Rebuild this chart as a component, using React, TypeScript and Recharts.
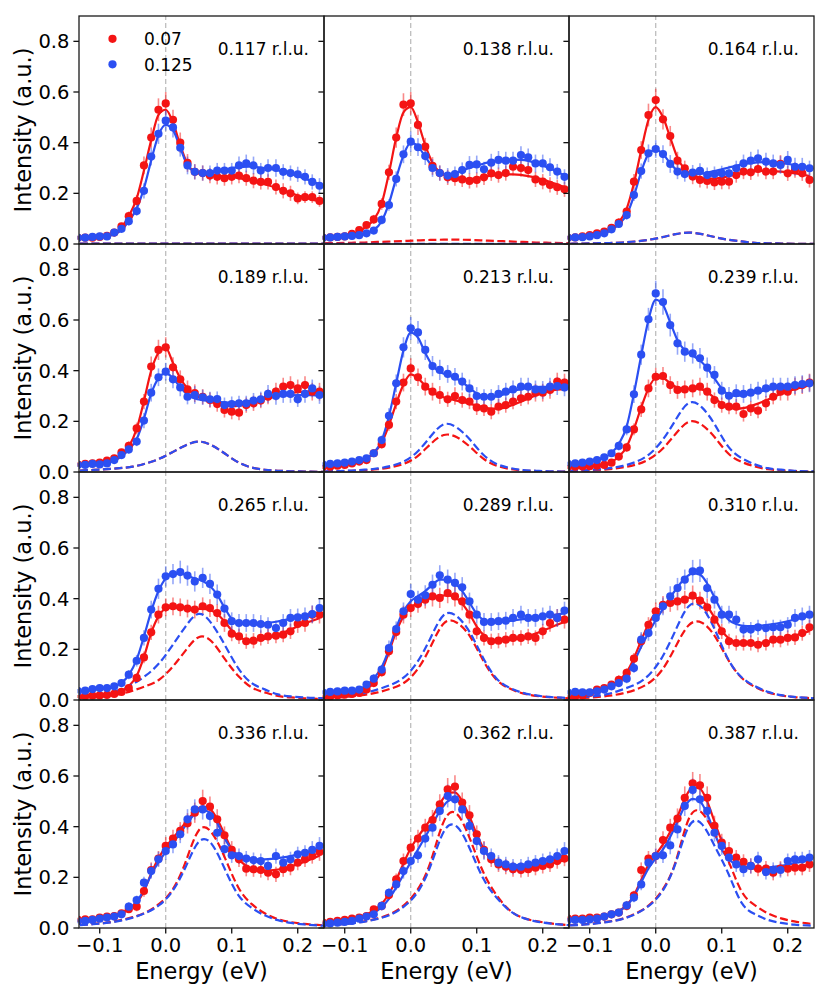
import React from 'react';
import { ComposedChart, XAxis, YAxis, Line, Scatter, ErrorBar, ReferenceLine } from 'recharts';

// ---------- data ----------
const ENERGY = [-0.133, -0.122, -0.111, -0.1, -0.089, -0.078, -0.067, -0.056, -0.044, -0.033, -0.022, -0.011, 0, 0.011, 0.022, 0.033, 0.044, 0.056, 0.067, 0.078, 0.089, 0.1, 0.111, 0.122, 0.133, 0.144, 0.155, 0.167, 0.178, 0.189, 0.2, 0.211, 0.222, 0.233];
const DASH_ENERGY = [-0.13, -0.11, -0.09, -0.07, -0.05, -0.03, -0.01, 0.01, 0.03, 0.05, 0.07, 0.09, 0.11, 0.13, 0.15, 0.17, 0.19, 0.21, 0.23, 0.25];
const Q_LABELS = ['0.117 r.l.u.', '0.138 r.l.u.', '0.164 r.l.u.', '0.189 r.l.u.', '0.213 r.l.u.', '0.239 r.l.u.', '0.265 r.l.u.', '0.289 r.l.u.', '0.310 r.l.u.', '0.336 r.l.u.', '0.362 r.l.u.', '0.387 r.l.u.'];
const SERIES_LABELS = ['0.07', '0.125'];
const X_TICKS = [-0.1, 0, 0.1, 0.2];
const X_TICK_LABELS = ['\u22120.1', '0.0', '0.1', '0.2'];
const Y_TICKS = [0, 0.2, 0.4, 0.6, 0.8];
const Y_TICK_LABELS = ['0.0', '0.2', '0.4', '0.6', '0.8'];
const X_LABEL = 'Energy (eV)';
const Y_LABEL = 'Intensity (a.u.)';

const RED_POINTS = [
  [.025,.025,.025,.028,.032,.045,.07,.11,.17,.31,.42,.53,.555,.49,.40,.32,.285,.28,.27,.265,.26,.265,.27,.26,.25,.245,.245,.225,.21,.20,.18,.185,.185,.17],
  [.025,.026,.028,.03,.04,.055,.075,.097,.158,.283,.42,.55,.555,.47,.384,.308,.28,.263,.26,.255,.249,.253,.263,.279,.272,.28,.305,.30,.292,.255,.246,.233,.224,.216],
  [.025,.026,.03,.035,.042,.049,.064,.084,.128,.246,.371,.509,.568,.492,.426,.329,.299,.266,.253,.249,.243,.246,.246,.272,.286,.283,.296,.286,.286,.316,.279,.292,.279,.253],
  [.03,.032,.034,.037,.045,.054,.078,.103,.172,.278,.416,.482,.492,.413,.366,.326,.311,.297,.284,.268,.245,.238,.234,.264,.271,.282,.297,.317,.337,.343,.33,.343,.317,.317],
  [.02,.021,.025,.028,.034,.041,.047,.074,.11,.186,.278,.353,.409,.374,.337,.317,.304,.287,.30,.284,.278,.255,.251,.238,.258,.264,.278,.291,.297,.313,.313,.324,.357,.353],
  [.02,.021,.022,.023,.025,.028,.037,.061,.097,.168,.247,.33,.376,.379,.343,.324,.326,.33,.337,.317,.284,.264,.258,.258,.229,.251,.242,.271,.297,.317,.317,.337,.343,.353],
  [.014,.015,.017,.018,.02,.024,.032,.047,.087,.168,.267,.337,.366,.37,.366,.361,.357,.37,.363,.343,.304,.262,.251,.232,.234,.245,.251,.254,.258,.271,.30,.304,.337,.337],
  [.013,.014,.018,.021,.024,.028,.041,.067,.11,.192,.268,.337,.363,.379,.396,.409,.403,.422,.409,.389,.337,.271,.245,.232,.234,.238,.245,.245,.251,.245,.271,.304,.324,.317],
  [.013,.014,.017,.028,.041,.047,.061,.08,.107,.163,.232,.297,.35,.376,.383,.389,.396,.412,.392,.366,.317,.271,.232,.225,.225,.225,.218,.225,.238,.238,.245,.247,.264,.287],
  [.032,.034,.034,.041,.045,.047,.058,.074,.084,.146,.229,.274,.324,.353,.383,.413,.455,.501,.479,.429,.366,.308,.271,.234,.232,.229,.218,.212,.232,.238,.258,.271,.284,.30],
  [.022,.024,.028,.032,.037,.041,.047,.074,.087,.13,.192,.264,.317,.353,.396,.426,.488,.547,.558,.495,.445,.37,.308,.271,.251,.242,.232,.229,.232,.238,.245,.251,.264,.274],
  [.037,.037,.037,.041,.041,.045,.054,.061,.087,.129,.229,.274,.284,.347,.396,.432,.514,.571,.563,.514,.403,.337,.304,.278,.261,.245,.234,.234,.218,.234,.234,.238,.238,.251],
];

const RED_ERRORS = [
  [.008,.008,.008,.008,.008,.013,.013,.018,.023,.035,.04,.045,.045,.04,.04,.035,.03,.03,.03,.03,.03,.03,.03,.03,.03,.03,.03,.03,.03,.03,.023,.023,.023,.023],
  [.008,.008,.008,.008,.013,.013,.013,.018,.023,.03,.04,.045,.045,.04,.035,.035,.03,.03,.03,.03,.03,.03,.03,.03,.03,.03,.035,.035,.03,.03,.03,.03,.03,.03],
  [.008,.008,.008,.008,.013,.013,.013,.018,.018,.03,.035,.045,.045,.04,.04,.035,.03,.03,.03,.03,.03,.03,.03,.03,.03,.03,.03,.03,.03,.035,.03,.03,.03,.03],
  [.008,.008,.008,.008,.013,.013,.013,.018,.023,.03,.04,.04,.04,.04,.035,.035,.035,.03,.03,.03,.03,.03,.03,.03,.03,.03,.03,.035,.035,.035,.035,.035,.035,.035],
  [.008,.008,.008,.008,.008,.013,.013,.013,.018,.023,.03,.035,.04,.035,.035,.035,.035,.03,.035,.03,.03,.03,.03,.03,.03,.03,.03,.03,.03,.035,.035,.035,.035,.035],
  [.008,.008,.008,.008,.008,.008,.008,.013,.018,.023,.03,.035,.035,.035,.035,.035,.035,.035,.035,.035,.03,.03,.03,.03,.03,.03,.03,.03,.03,.035,.035,.035,.035,.035],
  [.006,.006,.006,.006,.006,.008,.008,.013,.018,.023,.03,.035,.035,.035,.035,.035,.035,.035,.035,.035,.035,.03,.03,.03,.03,.03,.03,.03,.03,.03,.035,.035,.035,.035],
  [.006,.006,.006,.008,.008,.008,.013,.013,.018,.023,.03,.035,.035,.035,.035,.04,.04,.04,.04,.035,.035,.03,.03,.03,.03,.03,.03,.03,.03,.03,.03,.035,.035,.035],
  [.006,.006,.006,.008,.013,.013,.013,.018,.018,.023,.03,.03,.035,.035,.035,.035,.035,.04,.035,.035,.035,.03,.03,.03,.03,.03,.03,.03,.03,.03,.03,.03,.03,.03],
  [.008,.008,.008,.013,.013,.013,.013,.013,.018,.023,.03,.03,.035,.035,.035,.04,.04,.045,.04,.04,.035,.035,.03,.03,.03,.03,.03,.03,.03,.03,.03,.03,.03,.035],
  [.008,.008,.008,.008,.008,.013,.013,.013,.018,.018,.023,.03,.035,.035,.035,.04,.04,.045,.045,.04,.04,.035,.035,.03,.03,.03,.03,.03,.03,.03,.03,.03,.03,.03],
  [.008,.008,.008,.013,.013,.013,.013,.013,.018,.018,.03,.03,.03,.035,.035,.04,.045,.045,.045,.045,.04,.035,.035,.03,.03,.03,.03,.03,.03,.03,.03,.03,.03,.03],
];

const BLUE_POINTS = [
  [.025,.025,.028,.03,.03,.045,.06,.09,.13,.21,.345,.435,.487,.46,.38,.31,.285,.28,.28,.29,.29,.29,.31,.318,.31,.29,.30,.30,.285,.28,.275,.265,.245,.23],
  [.025,.026,.028,.03,.032,.035,.042,.053,.095,.154,.257,.354,.404,.382,.347,.30,.28,.27,.276,.292,.312,.314,.295,.321,.332,.329,.329,.351,.342,.318,.318,.303,.286,.265],
  [.025,.026,.027,.03,.035,.042,.058,.079,.114,.193,.288,.358,.375,.355,.316,.286,.276,.282,.289,.272,.276,.279,.279,.299,.318,.329,.338,.325,.318,.312,.332,.305,.305,.299],
  [.028,.028,.032,.03,.034,.047,.067,.089,.12,.203,.313,.374,.396,.366,.334,.297,.304,.295,.287,.288,.264,.268,.271,.271,.282,.287,.308,.30,.308,.308,.287,.308,.33,.304],
  [.03,.032,.034,.037,.041,.047,.054,.074,.126,.222,.35,.492,.567,.551,.482,.418,.403,.387,.376,.357,.33,.30,.297,.297,.308,.317,.326,.337,.337,.326,.324,.337,.339,.334],
  [.032,.034,.037,.041,.047,.058,.074,.103,.168,.307,.463,.603,.705,.671,.58,.508,.475,.468,.449,.412,.383,.321,.301,.311,.308,.313,.321,.33,.337,.337,.337,.343,.347,.35],
  [.035,.037,.043,.047,.047,.054,.067,.10,.155,.245,.357,.439,.488,.497,.505,.491,.468,.482,.458,.416,.361,.311,.304,.304,.304,.30,.297,.284,.304,.324,.326,.33,.339,.363],
  [.03,.032,.034,.037,.037,.041,.061,.084,.12,.205,.28,.35,.418,.396,.413,.455,.492,.475,.462,.445,.389,.337,.308,.308,.311,.313,.324,.337,.324,.324,.33,.337,.324,.353],
  [.03,.032,.03,.03,.034,.041,.054,.067,.084,.126,.238,.264,.324,.37,.409,.442,.475,.508,.511,.442,.396,.337,.337,.317,.278,.278,.287,.284,.287,.287,.297,.324,.33,.337],
  [.027,.028,.032,.037,.041,.045,.054,.084,.11,.179,.225,.271,.304,.33,.37,.429,.468,.468,.442,.376,.311,.287,.284,.274,.268,.264,.245,.284,.258,.271,.291,.297,.308,.324],
  [.017,.018,.021,.024,.028,.037,.045,.054,.087,.139,.172,.225,.264,.287,.353,.396,.462,.521,.508,.468,.403,.343,.304,.284,.258,.251,.242,.242,.251,.258,.264,.271,.284,.304],
  [.031,.032,.032,.034,.037,.045,.054,.061,.089,.12,.172,.258,.284,.287,.326,.389,.482,.545,.508,.462,.376,.324,.278,.251,.232,.245,.271,.221,.229,.229,.264,.271,.271,.278],
];

const BLUE_ERRORS = [
  [.008,.008,.008,.008,.008,.013,.013,.018,.018,.03,.035,.04,.04,.04,.035,.035,.03,.03,.03,.03,.03,.03,.035,.035,.035,.03,.035,.035,.03,.03,.03,.03,.03,.03],
  [.008,.008,.008,.008,.008,.008,.013,.013,.018,.023,.03,.035,.04,.035,.035,.035,.03,.03,.03,.03,.035,.035,.03,.035,.035,.035,.035,.035,.035,.035,.035,.035,.03,.03],
  [.008,.008,.008,.008,.008,.013,.013,.013,.018,.023,.03,.035,.035,.035,.035,.03,.03,.03,.03,.03,.03,.03,.03,.03,.035,.035,.035,.035,.035,.035,.035,.035,.035,.03],
  [.008,.008,.008,.008,.008,.013,.013,.018,.018,.03,.035,.035,.035,.035,.035,.03,.035,.03,.03,.03,.03,.03,.03,.03,.03,.03,.035,.035,.035,.035,.03,.035,.035,.035],
  [.008,.008,.008,.008,.013,.013,.013,.013,.018,.03,.035,.04,.045,.045,.04,.04,.04,.035,.035,.035,.035,.035,.03,.03,.035,.035,.035,.035,.035,.035,.035,.035,.035,.035],
  [.008,.008,.008,.013,.013,.013,.013,.018,.023,.035,.04,.045,.05,.05,.045,.045,.04,.04,.04,.04,.035,.035,.035,.035,.035,.035,.035,.035,.035,.035,.035,.035,.035,.035],
  [.008,.008,.013,.013,.013,.013,.013,.018,.023,.03,.035,.04,.04,.04,.045,.04,.04,.04,.04,.04,.035,.035,.035,.035,.035,.035,.03,.03,.035,.035,.035,.035,.035,.035],
  [.008,.008,.008,.008,.008,.013,.013,.018,.018,.03,.03,.035,.04,.035,.04,.04,.04,.04,.04,.04,.035,.035,.035,.035,.035,.035,.035,.035,.035,.035,.035,.035,.035,.035],
  [.008,.008,.008,.008,.008,.013,.013,.013,.018,.018,.03,.03,.035,.035,.04,.04,.04,.045,.045,.04,.035,.035,.035,.035,.03,.03,.03,.03,.03,.03,.03,.035,.035,.035],
  [.008,.008,.008,.008,.013,.013,.013,.018,.018,.023,.03,.03,.035,.035,.035,.04,.04,.04,.04,.035,.035,.03,.03,.03,.03,.03,.03,.03,.03,.03,.03,.03,.035,.035],
  [.006,.006,.008,.008,.008,.008,.013,.013,.018,.018,.023,.03,.03,.03,.035,.035,.04,.045,.045,.04,.04,.035,.035,.03,.03,.03,.03,.03,.03,.03,.03,.03,.03,.035],
  [.008,.008,.008,.008,.008,.013,.013,.013,.018,.018,.023,.03,.03,.03,.035,.035,.04,.045,.045,.04,.035,.035,.03,.03,.03,.03,.03,.03,.03,.03,.03,.03,.03,.03],
];

const RED_FIT = [
  [.025,.025,.026,.028,.032,.042,.065,.11,.18,.29,.41,.51,.53,.48,.39,.315,.285,.275,.272,.27,.268,.265,.26,.255,.248,.24,.232,.222,.212,.202,.192,.183,.175,.168],
  [.025,.026,.028,.03,.038,.05,.07,.095,.16,.28,.42,.52,.54,.48,.39,.32,.283,.266,.258,.255,.256,.26,.265,.27,.273,.275,.275,.273,.268,.262,.254,.245,.235,.225],
  [.025,.026,.028,.032,.038,.048,.062,.085,.14,.24,.37,.49,.54,.5,.42,.34,.295,.272,.262,.258,.258,.262,.268,.275,.281,.286,.288,.289,.288,.286,.283,.279,.274,.268],
  [.03,.031,.033,.036,.042,.052,.07,.1,.17,.28,.4,.47,.49,.43,.37,.33,.305,.29,.278,.268,.262,.26,.262,.268,.277,.287,.29,.3,.307,.312,.315,.317,.318,.318],
  [.02,.022,.025,.028,.033,.04,.052,.075,.115,.185,.27,.345,.385,.37,.34,.315,.3,.29,.283,.277,.27,.262,.255,.25,.25,.255,.265,.277,.29,.302,.312,.32,.325,.327],
  [.02,.021,.022,.023,.025,.03,.04,.06,.1,.17,.255,.33,.37,.37,.35,.333,.328,.33,.328,.315,.293,.27,.255,.25,.252,.26,.27,.283,.296,.308,.318,.327,.335,.342],
  [.014,.015,.016,.018,.021,.026,.035,.055,.095,.17,.265,.33,.36,.365,.364,.362,.36,.36,.355,.34,.31,.275,.25,.237,.235,.238,.245,.255,.266,.278,.29,.302,.313,.323],
  [.013,.014,.016,.019,.023,.029,.042,.068,.115,.19,.27,.33,.365,.382,.395,.405,.412,.413,.405,.38,.34,.29,.255,.238,.233,.234,.238,.244,.252,.262,.273,.285,.297,.308],
  [.013,.015,.018,.023,.03,.04,.055,.078,.11,.165,.235,.3,.345,.37,.385,.393,.4,.405,.398,.37,.325,.275,.242,.228,.223,.223,.225,.229,.234,.24,.247,.255,.263,.272],
  [.032,.033,.035,.038,.042,.048,.058,.075,.1,.145,.215,.275,.32,.355,.39,.425,.46,.48,.47,.43,.37,.31,.27,.245,.232,.227,.227,.23,.235,.243,.252,.262,.273,.285],
  [.022,.024,.027,.031,.036,.043,.053,.07,.095,.135,.19,.255,.315,.36,.4,.44,.49,.53,.535,.5,.44,.37,.31,.27,.25,.24,.236,.235,.236,.24,.245,.252,.26,.268],
  [.035,.036,.037,.039,.042,.047,.055,.068,.09,.13,.19,.25,.29,.33,.38,.44,.51,.555,.55,.5,.42,.345,.29,.26,.245,.237,.233,.232,.233,.235,.238,.241,.245,.249],
];

const BLUE_FIT = [
  [.025,.025,.026,.027,.03,.038,.055,.09,.14,.22,.33,.43,.47,.45,.38,.31,.285,.28,.283,.288,.294,.3,.303,.305,.305,.302,.298,.292,.285,.277,.268,.258,.247,.236],
  [.025,.026,.028,.03,.032,.036,.043,.055,.09,.16,.26,.35,.40,.385,.345,.305,.282,.275,.28,.29,.3,.31,.318,.325,.33,.332,.333,.332,.328,.32,.31,.298,.285,.27],
  [.025,.026,.027,.03,.035,.042,.055,.078,.115,.19,.285,.355,.372,.355,.318,.29,.277,.275,.277,.282,.288,.295,.302,.309,.315,.319,.322,.323,.322,.32,.316,.311,.306,.3],
  [.028,.029,.03,.032,.036,.045,.062,.088,.13,.21,.31,.37,.39,.37,.335,.305,.29,.284,.28,.277,.275,.274,.275,.278,.283,.288,.293,.298,.301,.303,.304,.304,.303,.302],
  [.03,.031,.033,.036,.04,.046,.056,.075,.125,.22,.35,.48,.55,.53,.47,.42,.395,.383,.372,.355,.332,.31,.297,.295,.3,.31,.32,.327,.332,.335,.336,.337,.337,.337],
  [.032,.034,.036,.04,.046,.056,.075,.11,.18,.31,.46,.6,.68,.66,.59,.52,.48,.46,.44,.41,.37,.33,.305,.3,.303,.31,.317,.323,.328,.332,.336,.34,.344,.348],
  [.035,.037,.04,.044,.048,.055,.068,.098,.16,.25,.35,.43,.48,.5,.5,.49,.48,.47,.45,.415,.365,.32,.303,.3,.3,.302,.305,.309,.314,.32,.326,.333,.34,.347],
  [.03,.031,.033,.035,.038,.044,.058,.085,.13,.2,.285,.35,.39,.41,.43,.455,.475,.475,.46,.43,.385,.34,.315,.307,.307,.31,.314,.318,.322,.326,.33,.334,.338,.342],
  [.03,.031,.032,.034,.037,.043,.053,.07,.1,.15,.21,.265,.315,.36,.405,.445,.48,.5,.495,.46,.405,.35,.315,.3,.293,.292,.293,.296,.3,.305,.311,.318,.325,.333],
  [.027,.029,.032,.036,.041,.048,.058,.075,.105,.15,.21,.26,.3,.335,.375,.415,.45,.465,.455,.415,.355,.31,.287,.277,.272,.271,.272,.275,.279,.284,.29,.297,.305,.314],
  [.017,.019,.022,.026,.031,.038,.047,.06,.082,.115,.16,.21,.26,.31,.36,.41,.46,.5,.51,.48,.42,.355,.305,.275,.258,.25,.248,.249,.252,.257,.264,.272,.281,.29],
  [.031,.032,.033,.035,.038,.044,.053,.067,.088,.125,.18,.235,.275,.31,.36,.42,.48,.51,.5,.45,.375,.31,.27,.25,.24,.236,.236,.238,.241,.245,.25,.256,.262,.268],
];

const RED_DASHED = [
  [.002,.002,.002,.002,.002,.002,.002,.002,.002,.002,.002,.002,.002,.002,.002,.002,.002,.002,.002,.002],
  [.003,.004,.005,.006,.008,.01,.012,.014,.016,.017,.017,.016,.014,.012,.01,.008,.006,.005,.004,.003],
  [.001,.002,.003,.004,.006,.01,.017,.027,.039,.045,.039,.027,.017,.01,.005,.003,.002,.001,.001,0],
  [.006,.008,.011,.015,.021,.034,.052,.078,.105,.12,.105,.072,.038,.018,.009,.005,.003,.002,.001,.001],
  [.002,.003,.005,.007,.011,.019,.033,.062,.11,.146,.137,.099,.053,.025,.012,.006,.004,.002,.002,.001],
  [.004,.005,.007,.011,.018,.029,.051,.091,.15,.198,.186,.135,.073,.04,.022,.011,.007,.004,.002,.001],
  [.007,.01,.015,.023,.037,.055,.08,.13,.195,.248,.23,.16,.095,.05,.03,.016,.01,.007,.005,.004],
  [.007,.01,.014,.02,.03,.045,.068,.12,.21,.302,.305,.25,.155,.08,.045,.026,.016,.011,.008,.006],
  [.006,.008,.011,.017,.026,.041,.068,.12,.21,.295,.305,.25,.158,.088,.052,.03,.018,.011,.008,.006],
  [.012,.016,.021,.03,.043,.062,.095,.15,.26,.385,.375,.275,.16,.095,.058,.035,.023,.016,.012,.009],
  [.011,.014,.019,.026,.038,.056,.09,.15,.26,.42,.45,.35,.22,.13,.07,.04,.027,.019,.013,.01],
  [.011,.014,.019,.026,.037,.058,.09,.15,.26,.43,.455,.37,.265,.145,.09,.058,.038,.026,.018,.013],
];

const BLUE_DASHED = [
  [.002,.002,.002,.002,.002,.002,.002,.002,.002,.002,.002,.002,.002,.002,.002,.002,.002,.002,.002,.002],
  [.001,.001,.001,.001,.001,.001,.001,.001,.001,.001,.001,.001,.001,.001,.001,.001,.001,.001,.001,.001],
  [.001,.002,.003,.004,.006,.01,.017,.027,.039,.045,.039,.027,.017,.01,.005,.003,.002,.001,.001,0],
  [.006,.008,.011,.015,.021,.034,.052,.078,.105,.12,.105,.072,.038,.018,.009,.005,.003,.002,.001,.001],
  [.003,.004,.006,.009,.014,.024,.042,.08,.14,.188,.175,.127,.068,.032,.016,.008,.005,.003,.002,.001],
  [.005,.007,.01,.015,.024,.04,.07,.125,.205,.272,.255,.185,.1,.055,.03,.015,.009,.005,.003,.002],
  [.01,.016,.025,.04,.063,.097,.145,.215,.29,.34,.3,.215,.125,.067,.042,.022,.014,.01,.008,.006],
  [.009,.013,.019,.028,.042,.06,.09,.15,.245,.335,.33,.265,.165,.085,.048,.028,.018,.012,.009,.007],
  [.008,.011,.016,.025,.042,.062,.1,.17,.275,.37,.365,.275,.16,.09,.055,.032,.019,.012,.008,.006],
  [.011,.015,.02,.028,.041,.06,.09,.145,.24,.34,.33,.23,.13,.08,.05,.031,.02,.014,.01,.008],
  [.01,.013,.018,.025,.036,.053,.085,.14,.245,.38,.4,.31,.195,.12,.068,.04,.026,.018,.013,.01],
  [.01,.013,.018,.025,.036,.056,.088,.145,.255,.4,.41,.32,.215,.1,.055,.032,.02,.013,.01,.008],
];

// ---------- styling / layout ----------
const RED = '#f41414';
const BLUE = '#2b4ff2';
const FONT = "'DejaVu Sans', sans-serif";
const GRID_LEFT = 79;
const GRID_TOP = 16;
const PANEL_W = 245;
const PANEL_H = 228;
const LEFT_AXIS_W = 79;
const INNER_AXIS_W = 10;
const BOTTOM_AXIS_H = 40;
const LABEL_ROOM = 14;
const X_DOMAIN: [number, number] = [-0.1314, 0.2398];
const Y_DOMAIN: [number, number] = [0, 0.9];

const makeDot = (color: string) => (props: any) => {
  if (props.cx == null || props.cy == null) return <g />;
  return <circle cx={props.cx} cy={props.cy} r={4.1} fill={color} />;
};
const redDot = makeDot(RED);
const blueDot = makeDot(BLUE);

const xFmt = (v: number) => {
  const i = X_TICKS.findIndex((t) => Math.abs(t - v) < 1e-9);
  return i >= 0 ? X_TICK_LABELS[i] : '';
};
const yFmt = (v: number) => {
  const i = Y_TICKS.findIndex((t) => Math.abs(t - v) < 1e-9);
  return i >= 0 ? Y_TICK_LABELS[i] : '';
};
const emptyFmt = () => '';

function Panel({ idx }: { idx: number }) {
  const row = Math.floor(idx / 3);
  const col = idx % 3;
  const yw = col === 0 ? LEFT_AXIS_W : INNER_AXIS_W;
  const bottom = row === 3;
  const xh = bottom ? BOTTOM_AXIS_H : 0;
  const mb = bottom ? 0 : LABEL_ROOM;
  const left = GRID_LEFT + col * PANEL_W - yw;
  const top = GRID_TOP + row * PANEL_H;

  const redPts = ENERGY.map((e, i) => ({ e, v: RED_POINTS[idx][i], err: RED_ERRORS[idx][i] }));
  const bluePts = ENERGY.map((e, i) => ({ e, v: BLUE_POINTS[idx][i], err: BLUE_ERRORS[idx][i] }));
  const redFit = ENERGY.map((e, i) => ({ e, v: RED_FIT[idx][i] }));
  const blueFit = ENERGY.map((e, i) => ({ e, v: BLUE_FIT[idx][i] }));
  const redDash = DASH_ENERGY.map((e, i) => ({ e, v: RED_DASHED[idx][i] }));
  const blueDash = DASH_ENERGY.map((e, i) => ({ e, v: BLUE_DASHED[idx][i] }));

  return (
    <div style={{ position: 'absolute', left, top }}>
      <ComposedChart width={PANEL_W + yw} height={PANEL_H + xh + mb} margin={{ top: 0, right: 0, bottom: mb, left: 0 }}>
        <XAxis
          type="number"
          dataKey="e"
          domain={X_DOMAIN}
          allowDataOverflow
          ticks={X_TICKS}
          interval={0}
          hide={!bottom}
          height={bottom ? xh : 0}
          tickFormatter={xFmt}
          tickSize={5.6}
          tickMargin={5}
          axisLine={false}
          tickLine={{ stroke: '#111', strokeWidth: 1.3 }}
          tick={{ fontSize: 19.5, fill: '#000', fontFamily: FONT }}
        />
        <YAxis
          type="number"
          domain={Y_DOMAIN}
          allowDataOverflow
          ticks={Y_TICKS}
          interval={0}
          width={yw}
          tickFormatter={col === 0 ? yFmt : emptyFmt}
          tickSize={5.6}
          tickMargin={4}
          axisLine={false}
          tickLine={{ stroke: '#111', strokeWidth: 1.3 }}
          tick={{ fontSize: 19.5, fill: '#000', fontFamily: FONT }}
        />
        <ReferenceLine x={0} stroke="#b8b8b8" strokeWidth={1.2} strokeDasharray="5 3" ifOverflow="hidden" />
        <Scatter data={redPts} dataKey="v" shape={redDot} isAnimationActive={false}>
          <ErrorBar dataKey="err" direction="y" width={0} stroke={RED} strokeOpacity={0.5} strokeWidth={1.6} isAnimationActive={false} />
        </Scatter>
        <Line data={redFit} dataKey="v" type="monotone" stroke={RED} strokeWidth={2.2} dot={false} activeDot={false} isAnimationActive={false} />
        <Scatter data={bluePts} dataKey="v" shape={blueDot} isAnimationActive={false}>
          <ErrorBar dataKey="err" direction="y" width={0} stroke={BLUE} strokeOpacity={0.5} strokeWidth={1.6} isAnimationActive={false} />
        </Scatter>
        <Line data={blueFit} dataKey="v" type="monotone" stroke={BLUE} strokeWidth={2.2} dot={false} activeDot={false} isAnimationActive={false} />
        <Line data={redDash} dataKey="v" type="natural" stroke={RED} strokeWidth={2.2} strokeDasharray="8 3.5" dot={false} activeDot={false} isAnimationActive={false} />
        <Line data={blueDash} dataKey="v" type="natural" stroke={BLUE} strokeWidth={2.2} strokeDasharray="8 3.5" dot={false} activeDot={false} isAnimationActive={false} />
      </ComposedChart>
    </div>
  );
}

function Overlay() {
  const items: React.ReactNode[] = [];
  for (let idx = 0; idx < 12; idx++) {
    const row = Math.floor(idx / 3);
    const col = idx % 3;
    const x0 = GRID_LEFT + col * PANEL_W;
    const y0 = GRID_TOP + row * PANEL_H;
    items.push(
      <rect key={`f${idx}`} x={x0} y={y0} width={PANEL_W} height={PANEL_H} fill="none" stroke="#1a1a1a" strokeWidth={1.3} />
    );
    items.push(
      <text key={`q${idx}`} x={x0 + PANEL_W - 15} y={y0 + 39} textAnchor="end" fontSize={17} fontFamily={FONT} fill="#000">
        {Q_LABELS[idx]}
      </text>
    );
  }
  for (let row = 0; row < 4; row++) {
    const cy = GRID_TOP + row * PANEL_H + PANEL_H / 2;
    items.push(
      <text key={`yl${row}`} transform={`translate(30.5, ${cy}) rotate(-90)`} textAnchor="middle" fontSize={22.5} fontFamily={FONT} fill="#000">
        {Y_LABEL}
      </text>
    );
  }
  for (let col = 0; col < 3; col++) {
    items.push(
      <text key={`xl${col}`} x={GRID_LEFT + col * PANEL_W + PANEL_W / 2} y={979} textAnchor="middle" fontSize={22.5} fontFamily={FONT} fill="#000">
        {X_LABEL}
      </text>
    );
  }
  // legend
  items.push(<circle key="lg1" cx={112.5} cy={38.8} r={4.1} fill={RED} />);
  items.push(
    <text key="lt1" x={144} y={45.3} fontSize={17} fontFamily={FONT} fill="#000">{SERIES_LABELS[0]}</text>
  );
  items.push(<circle key="lg2" cx={112.5} cy={64.3} r={4.1} fill={BLUE} />);
  items.push(
    <text key="lt2" x={144} y={70.7} fontSize={17} fontFamily={FONT} fill="#000">{SERIES_LABELS[1]}</text>
  );
  return (
    <svg width={830} height={996} style={{ position: 'absolute', left: 0, top: 0, pointerEvents: 'none' }}>
      {items}
    </svg>
  );
}

export default function App() {
  return (
    <div style={{ position: 'absolute', left: 0, top: 0, width: 830, height: 996, background: '#fff', overflow: 'hidden' }}>
      {Array.from({ length: 12 }, (_, i) => (
        <Panel key={i} idx={i} />
      ))}
      <Overlay />
    </div>
  );
}
